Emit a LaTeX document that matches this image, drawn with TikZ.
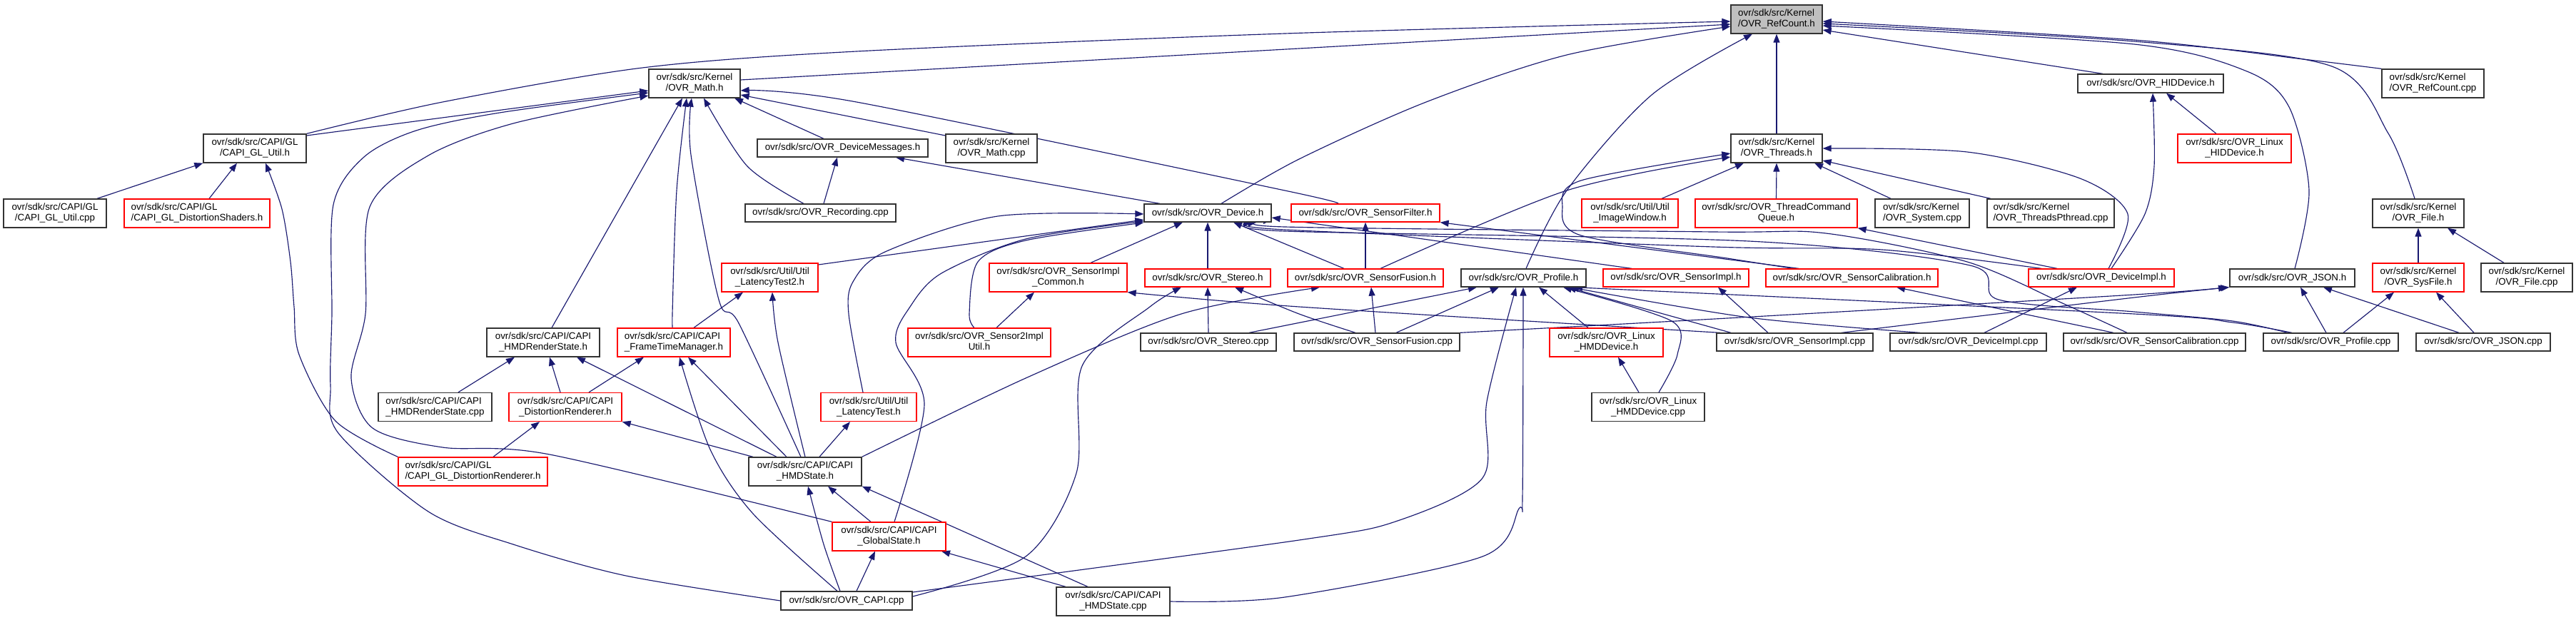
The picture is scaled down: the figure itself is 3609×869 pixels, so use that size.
\documentclass[tikz,border=0pt]{standalone}
\usepackage{fontspec}
\setmainfont{Liberation Sans}
\usetikzlibrary{arrows.meta}
\definecolor{edgec}{RGB}{25,25,112}
\definecolor{nodegray}{RGB}{191,191,191}
\pgfdeclarelayer{bg}
\pgfsetlayers{bg,main}
\newlength\lnA \newlength\lnB
\newcommand\two[2]{\settowidth\lnA{#1}\settowidth\lnB{#2}\ifdim\lnA<\lnB \lnA=\lnB\fi\begin{tabular}{@{}c@{}}\makebox[\lnA][l]{#1}\\#2\end{tabular}}
\begin{document}
\begin{tikzpicture}[x=1pt,y=-1pt,
  bx/.style={draw=black!80, line width=1.3pt, rectangle, inner sep=0pt, align=center, fill=white, font=\fontsize{13.35}{15}\selectfont},
  rbx/.style={bx, draw=red},
  dep/.style={draw=edgec, line width=1.15pt, -{Triangle[length=12pt,width=9pt]}}]
\useasboundingbox (0,0) rectangle (3609,869);
% ---------------- nodes ----------------
\node[bx, fill=nodegray, minimum width=128pt, minimum height=40pt] (refh) at (2489,27) {\two{ovr/sdk/src/Kernel}{/OVR\_RefCount.h}};
\node[bx, minimum width=128pt, minimum height=40pt] (math) at (973,117) {\two{ovr/sdk/src/Kernel}{/OVR\_Math.h}};
\node[bx, minimum width=144pt, minimum height=40pt] (glutil) at (357,208) {\two{ovr/sdk/src/CAPI/GL}{/CAPI\_GL\_Util.h}};
\node[bx, minimum width=144pt, minimum height=40pt] (glutilcpp) at (77,299) {\two{ovr/sdk/src/CAPI/GL}{/CAPI\_GL\_Util.cpp}};
\node[rbx, minimum width=204pt, minimum height=40pt] (glshaders) at (276,299) {\two{ovr/sdk/src/CAPI/GL}{/CAPI\_GL\_DistortionShaders.h}};
\node[bx, minimum width=239pt, minimum height=25pt] (devmsg) at (1180.5,207.5) {ovr/sdk/src/OVR\_DeviceMessages.h};
\node[bx, minimum width=128pt, minimum height=40pt] (mathcpp) at (1389,208) {\two{ovr/sdk/src/Kernel}{/OVR\_Math.cpp}};
\node[bx, minimum width=211pt, minimum height=25pt] (recording) at (1149.5,298.5) {ovr/sdk/src/OVR\_Recording.cpp};
\node[bx, minimum width=178pt, minimum height=25pt] (device) at (1692,298.5) {ovr/sdk/src/OVR\_Device.h};
\node[rbx, minimum width=208pt, minimum height=25pt] (sfilter) at (1913,298.5) {ovr/sdk/src/OVR\_SensorFilter.h};
\node[bx, minimum width=128pt, minimum height=40pt] (threads) at (2489,208) {\two{ovr/sdk/src/Kernel}{/OVR\_Threads.h}};
\node[rbx, minimum width=135pt, minimum height=40pt] (imgwin) at (2283.5,299) {\two{ovr/sdk/src/Util/Util}{\_ImageWindow.h}};
\node[rbx, minimum width=227pt, minimum height=40pt] (tcq) at (2488.5,299) {\two{ovr/sdk/src/OVR\_ThreadCommand}{Queue.h}};
\node[bx, minimum width=132pt, minimum height=40pt] (system) at (2693,299) {\two{ovr/sdk/src/Kernel}{/OVR\_System.cpp}};
\node[bx, minimum width=178pt, minimum height=40pt] (pthread) at (2873,299) {\two{ovr/sdk/src/Kernel}{/OVR\_ThreadsPthread.cpp}};
\node[bx, minimum width=204pt, minimum height=26pt] (hid) at (3013,117) {ovr/sdk/src/OVR\_HIDDevice.h};
\node[rbx, minimum width=159pt, minimum height=40pt] (linuxhid) at (3130.5,208) {\two{ovr/sdk/src/OVR\_Linux}{\_HIDDevice.h}};
\node[bx, minimum width=143pt, minimum height=40pt] (refcpp) at (3408.5,117) {\two{ovr/sdk/src/Kernel}{/OVR\_RefCount.cpp}};
\node[bx, minimum width=128pt, minimum height=40pt] (file) at (3388,299) {\two{ovr/sdk/src/Kernel}{/OVR\_File.h}};
\node[rbx, minimum width=128pt, minimum height=40pt] (sysfile) at (3388,389) {\two{ovr/sdk/src/Kernel}{/OVR\_SysFile.h}};
\node[bx, minimum width=128pt, minimum height=40pt] (filecpp) at (3540,389) {\two{ovr/sdk/src/Kernel}{/OVR\_File.cpp}};
\node[bx, minimum width=175pt, minimum height=25pt] (json) at (3211.5,389.5) {ovr/sdk/src/OVR\_JSON.h};
\node[rbx, minimum width=204pt, minimum height=25pt] (devimpl) at (2944,389.5) {ovr/sdk/src/OVR\_DeviceImpl.h};
\node[rbx, minimum width=241pt, minimum height=25pt] (scalib) at (2594.5,389.5) {ovr/sdk/src/OVR\_SensorCalibration.h};
\node[rbx, minimum width=204pt, minimum height=25pt] (simpl) at (2348,389.5) {ovr/sdk/src/OVR\_SensorImpl.h};
\node[bx, minimum width=175pt, minimum height=25pt] (profile) at (2134.5,389.5) {ovr/sdk/src/OVR\_Profile.h};
\node[rbx, minimum width=218pt, minimum height=25pt] (sfusion) at (1913,389.5) {ovr/sdk/src/OVR\_SensorFusion.h};
\node[rbx, minimum width=135pt, minimum height=40pt] (latency2) at (1078.5,389) {\two{ovr/sdk/src/Util/Util}{\_LatencyTest2.h}};
\node[rbx, minimum width=193pt, minimum height=40pt] (simplcommon) at (1482.5,389) {\two{ovr/sdk/src/OVR\_SensorImpl}{\_Common.h}};
\node[rbx, minimum width=176pt, minimum height=25pt] (stereo) at (1692,389.5) {ovr/sdk/src/OVR\_Stereo.h};
\node[bx, minimum width=158pt, minimum height=40pt] (hmdrs) at (761,480) {\two{ovr/sdk/src/CAPI/CAPI}{\_HMDRenderState.h}};
\node[rbx, minimum width=158pt, minimum height=40pt] (ftm) at (944,480) {\two{ovr/sdk/src/CAPI/CAPI}{\_FrameTimeManager.h}};
\node[rbx, minimum width=200pt, minimum height=40pt] (s2iu) at (1372,480) {\two{ovr/sdk/src/OVR\_Sensor2Impl}{Util.h}};
\node[bx, minimum width=190pt, minimum height=25pt] (stereocpp) at (1693,479.5) {ovr/sdk/src/OVR\_Stereo.cpp};
\node[bx, minimum width=232pt, minimum height=25pt] (sfusioncpp) at (1929,479.5) {ovr/sdk/src/OVR\_SensorFusion.cpp};
\node[rbx, minimum width=159pt, minimum height=40pt] (linuxhmd) at (2250.5,480) {\two{ovr/sdk/src/OVR\_Linux}{\_HMDDevice.h}};
\node[bx, minimum width=219pt, minimum height=25pt] (simplcpp) at (2514.5,479.5) {ovr/sdk/src/OVR\_SensorImpl.cpp};
\node[bx, minimum width=219pt, minimum height=25pt] (devimplcpp) at (2757.5,479.5) {ovr/sdk/src/OVR\_DeviceImpl.cpp};
\node[bx, minimum width=255pt, minimum height=25pt] (scalibcpp) at (3018.5,479.5) {ovr/sdk/src/OVR\_SensorCalibration.cpp};
\node[bx, minimum width=189pt, minimum height=25pt] (profilecpp) at (3265.5,479.5) {ovr/sdk/src/OVR\_Profile.cpp};
\node[bx, minimum width=188pt, minimum height=25pt] (jsoncpp) at (3479,479.5) {ovr/sdk/src/OVR\_JSON.cpp};
\node[bx, minimum width=159pt, minimum height=40pt] (hmdrscpp) at (609.5,570.5) {\two{ovr/sdk/src/CAPI/CAPI}{\_HMDRenderState.cpp}};
\node[rbx, minimum width=158pt, minimum height=40pt] (distr) at (792,570.5) {\two{ovr/sdk/src/CAPI/CAPI}{\_DistortionRenderer.h}};
\node[rbx, minimum width=134pt, minimum height=40pt] (latency) at (1217,570.5) {\two{ovr/sdk/src/Util/Util}{\_LatencyTest.h}};
\node[bx, minimum width=158pt, minimum height=40pt] (linuxhmdcpp) at (2309,570.5) {\two{ovr/sdk/src/OVR\_Linux}{\_HMDDevice.cpp}};
\node[rbx, minimum width=209pt, minimum height=40pt] (gldistr) at (662.5,661) {\two{ovr/sdk/src/CAPI/GL}{/CAPI\_GL\_DistortionRenderer.h}};
\node[bx, minimum width=158pt, minimum height=40pt] (hmdstate) at (1128,661) {\two{ovr/sdk/src/CAPI/CAPI}{\_HMDState.h}};
\node[rbx, minimum width=159pt, minimum height=40pt] (globalstate) at (1245.5,752) {\two{ovr/sdk/src/CAPI/CAPI}{\_GlobalState.h}};
\node[bx, minimum width=184pt, minimum height=26pt] (capicpp) at (1186,842) {ovr/sdk/src/OVR\_CAPI.cpp};
\node[bx, minimum width=159pt, minimum height=40pt] (hmdstatecpp) at (1559.5,843) {\two{ovr/sdk/src/CAPI/CAPI}{\_HMDState.cpp}};
% ---------------- edges (behind the nodes) ----------------
\begin{pgfonlayer}{bg}
\fill[white] (0,0) rectangle (3609,869);
% into RefCount.h
\draw[dep] plot[smooth,tension=.5] coordinates {(glutil.north east) (620,143) (900,95) (1200,72) (1800,47) (refh.west |- 0,30)};
\draw[dep] (math.east |- 0,112) -- (refh.west |- 0,34);
\draw[dep] plot[smooth,tension=.5] coordinates {(1711,286 |- device.north) (1820,223) (1998,143) (2195,77) (refh.west |- 0,37)};
\draw[dep] plot[smooth,tension=.5] coordinates {(2138,0 |- profile.north) (2195,267) (2314,133) (2455,0 |- refh.south)};
\draw[dep] (threads.north) -- (refh.south);
\draw[dep] (2946,0 |- hid.north) -- (refh.east |- 0,42);
\draw[dep] plot[smooth,tension=.5] coordinates {(refcpp.north west) (3227,83) (2990,56) (refh.east |- 0,30)};
\draw[dep] plot[smooth,tension=.5] coordinates {(3383,0 |- file.north) (3346,187) (3267,93) (2990,58) (refh.east |- 0,33)};
\draw[dep] plot[smooth,tension=.5] coordinates {(3215,0 |- json.north) (3235,267) (3207,150) (3148,100) (2990,62) (refh.east |- 0,36)};
% into Math.h
\draw[dep] (glutil.north east |- 0,190) -- (math.west |- 0,127);
\draw[dep] plot[smooth,tension=.5] coordinates {(capicpp.west) (877,807) (719,763) (600,717) (474,607) (463,540) (465,440) (467,287) (510,220) (583,183) (700,158) (math.west |- 0,130)};
\draw[dep] plot[smooth,tension=.5] coordinates {(globalstate.north west) (770,637) (620,627) (522,600) (492,530) (512,440) (518,290) (600,218) (719,173) (math.west |- 0,134)};
\draw[dep] (773,0 |- hmdrs.north) -- (956,0 |- math.south);
\draw[dep] plot[smooth,tension=.5] coordinates {(943,0 |- ftm.north) (942,440) (948,267) (962,0 |- math.south)};
\draw[dep] plot[smooth,tension=.5] coordinates {(1122,0 |- hmdstate.north) (1035,453) (1007,420) (968,217) (969,0 |- math.south)};
\draw[dep] plot[smooth,tension=.5] coordinates {(1126,0 |- recording.north) (1047,233) (986,0 |- math.south)};
\draw[dep] (1154,0 |- devmsg.north) -- (1029,0 |- math.south);
\draw[dep] plot[smooth,tension=.5] coordinates {(1873,0 |- sfilter.north) (1800,267) (1200,143) (math.east |- 0,127)};
\draw[dep] (mathcpp.west |- 0,190) -- (math.east |- 0,133);
% into GL_Util.h
\draw[dep] (136,0 |- glutilcpp.north) -- (glutil.south west);
\draw[dep] (293,0 |- glshaders.north) -- (332,0 |- glutil.south);
\draw[dep] plot[smooth,tension=.5] coordinates {(gldistr.north west) (470,590) (419,497) (412,430) (407,367) (395,293) (372,0 |- glutil.south)};
% into DeviceMessages.h
\draw[dep] (1154,0 |- recording.north) -- (1173,0 |- devmsg.south);
\draw[dep] (1625,0 |- device.north) -- (1255,0 |- devmsg.south);
% into Device.h
\draw[dep] (latency2.east |- 0,371) -- (device.west |- 0,308);
\draw[dep] plot[smooth,tension=.5] coordinates {(1209,0 |- latency.north) (1189,440) (1195,395) (1240,353) (1398,303) (device.west |- 0,300)};
\draw[dep] plot[smooth,tension=.5] coordinates {(1253,0 |- globalstate.north) (1295,567) (1255,480) (1275,430) (1319,383) (1437,335) (device.west |- 0,310)};
\draw[dep] plot[smooth,tension=.5] coordinates {(1365,0 |- s2iu.north) (1358,440) (1370,367) (1437,337) (device.west |- 0,312)};
\draw[dep] (1528,0 |- simplcommon.north) -- (1657,0 |- device.south);
\draw[dep] (stereo.north) -- (device.south);
\draw[dep] (1883,0 |- sfusion.north) -- (1728,0 |- device.south);
\draw[dep] (2286,0 |- simpl.north) -- (device.east |- 0,305);
\draw[dep] plot[smooth,tension=.5] coordinates {(2860,0 |- devimpl.north) (2637,350) (2400,346) (1800,322) (1754,0 |- device.south)};
\draw[dep] plot[smooth,tension=.5] coordinates {(2980,0 |- scalibcpp.north) (2894,427) (2756,367) (2558,327) (2400,325) (1800,318) (device.east |- 0,308)};
\draw[dep] plot[smooth,tension=.5] coordinates {(3205,0 |- profilecpp.north) (3128,450) (2990,437) (2800,420) (2760,372) (2450,338) (1800,324) (1760,0 |- device.south)};
% into Threads.h
\draw[dep] plot[smooth,tension=.5] coordinates {(1934,0 |- sfusion.north) (2195,267) (threads.west |- 0,220)};
\draw[dep] (2328,0 |- imgwin.north) -- (2443,0 |- threads.south);
\draw[dep] (tcq.north) -- (threads.south);
\draw[dep] (2649,0 |- system.north) -- (2542,0 |- threads.south);
\draw[dep] (2789,0 |- pthread.north) -- (threads.east |- 0,225);
\draw[dep] plot[smooth,tension=.5] coordinates {(2954,0 |- devimpl.north) (2981,300) (2914,250) (2756,213) (threads.east |- 0,208)};
\draw[dep] plot[smooth,tension=.5] coordinates {(2512,0 |- scalib.north) (2420,362) (2215,330) (2189,290) (2215,253) (threads.west |- 0,215)};
% HIDDevice.h
\draw[dep] plot[smooth,tension=.5] coordinates {(2958,0 |- devimpl.north) (3005,300) (3018,233) (3016,0 |- hid.south)};
\draw[dep] (3105,0 |- linuxhid.north) -- (3035,0 |- hid.south);
% File / SysFile / JSON
\draw[dep] (sysfile.north) -- (file.south);
\draw[dep] (3508,0 |- filecpp.north) -- (3429,0 |- file.south);
\draw[dep] (3283,0 |- profilecpp.north) -- (3354,0 |- sysfile.south);
\draw[dep] (3466,0 |- jsoncpp.north) -- (3413,0 |- sysfile.south);
\draw[dep] (3259,0 |- profilecpp.north) -- (3223,0 |- json.south);
\draw[dep] (3445,0 |- jsoncpp.north) -- (3255,0 |- json.south);
\draw[dep] plot[smooth,tension=.5] coordinates {(2580,0 |- simplcpp.north) (2990,417) (json.south west)};
\draw[dep] plot[smooth,tension=.5] coordinates {(sfusioncpp.north east) (2420,446) (2990,413) (3120,0 |- json.south)};
% into Profile.h
\draw[dep] (1750,0 |- stereocpp.north) -- (2069,0 |- profile.south);
\draw[dep] (1956,0 |- sfusioncpp.north) -- (2100,0 |- profile.south);
\draw[dep] plot[smooth,tension=.5] coordinates {(capicpp.east |- 0,830) (1820,757) (1958,730) (2077,670) (2083,563) (2124,0 |- profile.south)};
\draw[dep] plot[smooth,tension=.5] coordinates {(hmdstatecpp.east) (1800,837) (2077,780) (2128,713) (2133,697) (2134,0 |- profile.south)};
\draw[dep] (2225,0 |- linuxhmd.north) -- (2156,0 |- profile.south);
\draw[dep] plot[smooth,tension=.5] coordinates {(2324,0 |- linuxhmdcpp.north) (2350,497) (2342,450) (2190,0 |- profile.south)};
\draw[dep] (2425,0 |- simplcpp.north) -- (2196,0 |- profile.south);
\draw[dep] plot[smooth,tension=.5] coordinates {(2690,0 |- devimplcpp.north) (2450,445) (2200,0 |- profile.south)};
\draw[dep] plot[smooth,tension=.5] coordinates {(3211,0 |- profilecpp.north) (3128,452) (2990,440) (2205,0 |- profile.south)};
% Stereo.h
\draw[dep] plot[smooth,tension=.5] coordinates {(capicpp.east |- 0,836) (1437,780) (1508,663) (1516,513) (1611,430) (1655,0 |- stereo.south)};
\draw[dep] (stereocpp.north) -- (stereo.south);
\draw[dep] plot[smooth,tension=.5] coordinates {(1899,0 |- sfusioncpp.north) (1820,440) (1730,0 |- stereo.south)};
% SensorFusion.h / SensorFilter.h
\draw[dep] (1927,0 |- sfusioncpp.north) -- (1921,0 |- sfusion.south);
\draw[dep] plot[smooth,tension=.5] coordinates {(hmdstate.north east) (1437,530) (1655,440) (1849,0 |- sfusion.south)};
\draw[dep] (sfusion.north) -- (sfilter.south);
\draw[dep] (2520,0 |- scalib.north) -- (sfilter.south east);
% SensorImpl_Common.h / SensorImpl.h
\draw[dep] (1396,0 |- s2iu.north) -- (1449,0 |- simplcommon.south);
\draw[dep] plot[smooth,tension=.5] coordinates {(2410,0 |- simplcpp.north) (1820,430) (simplcommon.south east)};
\draw[dep] (2477,0 |- simplcpp.north) -- (2407,0 |- simpl.south);
% DeviceImpl.h / SensorCalibration.h
\draw[dep] (2780,0 |- devimplcpp.north) -- (2910,0 |- devimpl.south);
\draw[dep] (2882,0 |- devimpl.north) -- (tcq.south east);
\draw[dep] (2961,0 |- scalibcpp.north) -- (2657,0 |- scalib.south);
% CAPI lower part
\draw[dep] (642,0 |- hmdrscpp.north) -- (721,0 |- hmdrs.south);
\draw[dep] (785,0 |- distr.north) -- (770,0 |- hmdrs.south);
\draw[dep] (1088,0 |- hmdstate.north) -- (808,0 |- hmdrs.south);
\draw[dep] (825,0 |- distr.north) -- (902,0 |- ftm.south);
\draw[dep] plot[smooth,tension=.5] coordinates {(1173,0 |- capicpp.north) (1055,720) (995,630) (952,0 |- ftm.south)};
\draw[dep] (1102,0 |- hmdstate.north) -- (964,0 |- ftm.south);
\draw[dep] (972,0 |- ftm.north) -- (1041,0 |- latency2.south);
\draw[dep] plot[smooth,tension=.5] coordinates {(1128,0 |- hmdstate.north) (1090,480) (1082,0 |- latency2.south)};
\draw[dep] (691,0 |- gldistr.north) -- (756,0 |- distr.south);
\draw[dep] (1055,0 |- hmdstate.north) -- (distr.south east);
\draw[dep] (1148,0 |- hmdstate.north) -- (1191,0 |- latency.south);
\draw[dep] plot[smooth,tension=.5] coordinates {(1177,0 |- capicpp.north) (1154,763) (1132,0 |- hmdstate.south)};
\draw[dep] (1220,0 |- globalstate.north) -- (1160,0 |- hmdstate.south);
\draw[dep] (1524,0 |- hmdstatecpp.north) -- (hmdstate.south east);
\draw[dep] (1200,0 |- capicpp.north) -- (1226,0 |- globalstate.south);
\draw[dep] (1493,0 |- hmdstatecpp.north) -- (1319,0 |- globalstate.south);
\draw[dep] (2296,0 |- linuxhmdcpp.north) -- (2267,0 |- linuxhmd.south);
\end{pgfonlayer}
\end{tikzpicture}
\end{document}
